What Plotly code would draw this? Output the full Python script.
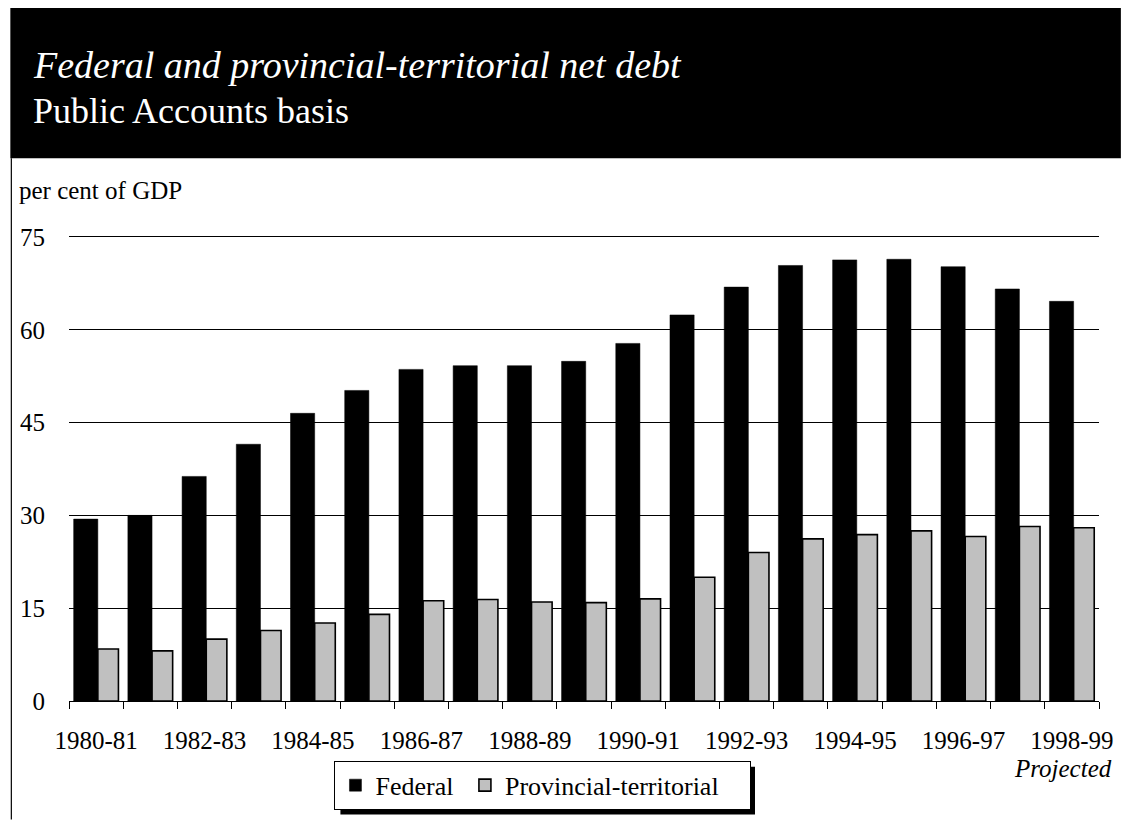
import plotly.graph_objects as go

years = ["1980-81", "1981-82", "1982-83", "1983-84", "1984-85", "1985-86", "1986-87",
         "1987-88", "1988-89", "1989-90", "1990-91", "1991-92", "1992-93", "1993-94",
         "1994-95", "1995-96", "1996-97", "1997-98", "1998-99"]
federal = [29.4, 30.0, 36.3, 41.5, 46.5, 50.2, 53.6, 54.2, 54.2, 54.9, 57.8, 62.4,
           66.9, 70.4, 71.3, 71.4, 70.2, 66.6, 64.6]
provincial = [8.4, 8.1, 10.0, 11.4, 12.6, 14.0, 16.2, 16.4, 16.0, 15.9, 16.5, 20.0,
              24.0, 26.2, 26.9, 27.5, 26.6, 28.2, 28.0]
y_ticks = [0, 15, 30, 45, 60, 75]
series_names = ["Federal", "Provincial-territorial"]

FONT = "Liberation Serif, Times New Roman, serif"
W, H = 1117, 814
L, R, T, B = 59, 22, 229, 119
PW = W - L - R
PH = H - T - B


def px(x):
    return (x - L) / PW


def py(y):
    return (H - B - y) / PH


idx = list(range(len(years)))
label_idx = idx[::2]
label_txt = years[::2]
NB = "\u00a0"

fig = go.Figure()
fig.add_trace(go.Bar(
    x=idx, y=federal, name=series_names[0] + NB,
    marker=dict(color="black", line=dict(color="black", width=0.5)),
    width=0.446, offset=-0.414,
))
fig.add_trace(go.Bar(
    x=idx, y=provincial, name=series_names[1] + NB * 4,
    marker=dict(color="#c0c0c0", line=dict(color="black", width=1.6)),
    width=0.38, offset=0.032,
))

# header band
fig.add_shape(type="rect", xref="paper", yref="paper",
              x0=px(0), x1=px(W), y0=py(150), y1=py(-3),
              fillcolor="black", line=dict(width=0), layer="below")
# left border
fig.add_shape(type="line", xref="paper", yref="paper",
              x0=px(1), x1=px(1), y0=py(150), y1=py(H),
              line=dict(color="black", width=1.2))
# legend shadow
fig.add_shape(type="rect", xref="paper", yref="paper",
              x0=px(332), x1=px(749), y0=py(809), y1=py(761),
              fillcolor="black", line=dict(width=0), layer="above")

fig.add_annotation(text="<i>Federal and provincial-territorial net debt</i>",
                   xref="paper", yref="paper", x=px(21), y=py(56),
                   xanchor="left", yanchor="middle", showarrow=False,
                   font=dict(family=FONT, size=38, color="white"))
fig.add_annotation(text="Public Accounts basis",
                   xref="paper", yref="paper", x=px(21), y=py(102),
                   xanchor="left", yanchor="middle", showarrow=False,
                   font=dict(family=FONT, size=36, color="white"))
fig.add_annotation(text="per cent of GDP",
                   xref="paper", yref="paper", x=px(7), y=py(182),
                   xanchor="left", yanchor="middle", showarrow=False,
                   font=dict(family=FONT, size=25, color="black"))
fig.add_annotation(text="<i>Projected</i>",
                   xref="paper", yref="paper", x=px(1110), y=py(763),
                   xanchor="right", yanchor="middle", showarrow=False,
                   font=dict(family=FONT, size=25, color="black"))

fig.update_layout(
    width=W, height=H,
    margin=dict(l=L, r=R, t=T, b=B, pad=0),
    paper_bgcolor="white", plot_bgcolor="white",
    barmode="overlay",
    font=dict(family=FONT, size=25, color="black"),
    showlegend=True,
    legend=dict(orientation="h", x=px(326), y=py(755), xanchor="left", yanchor="top",
                bgcolor="white", bordercolor="black", borderwidth=1,
                font=dict(family=FONT, size=26, color="black"),
                traceorder="normal"),
    xaxis=dict(range=[-0.5, len(years) - 0.5], tickmode="array",
               tickvals=label_idx, ticktext=label_txt,
               ticks="outside", ticklen=17, tickcolor="rgba(0,0,0,0)",
               showline=True, linecolor="black", linewidth=1, mirror=True,
               showgrid=False, zeroline=False,
               minor=dict(tickmode="linear", tick0=-0.5, dtick=1, ticks="outside",
                          ticklen=7, tickcolor="black", tickwidth=1, showgrid=False),
               tickfont=dict(family=FONT, size=25)),
    yaxis=dict(range=[0, 75], tickmode="array", tickvals=y_ticks,
               ticks="outside", ticklen=18, tickcolor="rgba(0,0,0,0)",
               showgrid=True, gridcolor="black", gridwidth=1,
               showline=False, zeroline=False,
               tickfont=dict(family=FONT, size=25)),
)

fig.write_html("out.html")
